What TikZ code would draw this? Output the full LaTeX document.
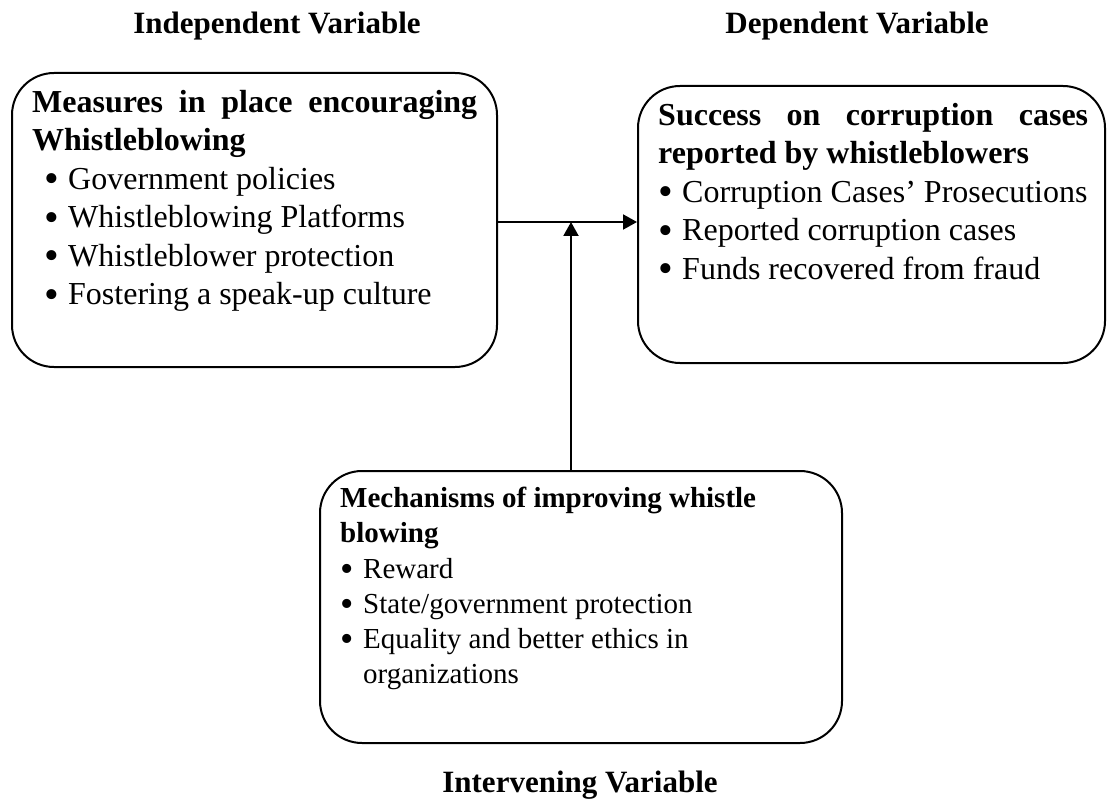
\documentclass[tikz,border=0pt]{standalone}
\usepackage{fontspec}
\setmainfont{Liberation Serif}
\usetikzlibrary{arrows.meta}
\hyphenpenalty=10000
\exhyphenpenalty=10000
\newcommand\mybul[2]{{\fontsize{#1}{0}\selectfont\raisebox{#2}{\textbullet}}}
\begin{document}
\begin{tikzpicture}[x=1pt,y=-1pt,
  box/.style={draw, line width=2pt, rounded corners=42pt, inner sep=0pt},
  txt/.style={anchor=north west, inner sep=0pt},
  big/.style={font=\fontsize{32}{38.5}\selectfont},
  small/.style={font=\fontsize{29}{35.2}\selectfont},
  vtitle/.style={anchor=base, inner sep=0pt, font=\fontsize{31}{38}\selectfont\bfseries},
  arr/.style={line width=2pt, -{Triangle[length=14pt,width=15pt]}}]
\useasboundingbox (0,0) rectangle (1107,810);

% titles
\node[vtitle] (tind) at (277,34) {Independent Variable};
\node[vtitle] (tdep) at (857,34) {Dependent Variable};
\node[vtitle] (tint) at (580,792) {Intervening Variable};

% boxes
\node[box, minimum width=485pt, minimum height=294pt] (lbox) at (254.5,220) {};
\node[box, minimum width=467pt, minimum height=277pt] (rbox) at (871.5,224.5) {};
\node[box, minimum width=522pt, minimum height=272pt] (bbox) at (581,607) {};

% texts
\node[txt, big, text width=445pt, align=justify] (ltxt) at (32,90)
{\textbf{Measures in place encouraging\linebreak Whistleblowing}\\
\hspace*{12pt}\makebox[24pt][l]{\mybul{42}{-3.5pt}}Government policies\\
\hspace*{12pt}\makebox[24pt][l]{\mybul{42}{-3.5pt}}Whistleblowing Platforms\\
\hspace*{12pt}\makebox[24pt][l]{\mybul{42}{-3.5pt}}Whistleblower protection\\
\hspace*{12pt}\makebox[24pt][l]{\mybul{42}{-3.5pt}}Fostering a speak-up culture};

\node[txt, big, text width=430pt, align=justify] (rtxt) at (658,103)
{\textbf{Success on corruption cases\linebreak reported by whistleblowers}\\
\makebox[24pt][l]{\mybul{42}{-3.5pt}}Corruption Cases’ Prosecutions\\
\makebox[24pt][l]{\mybul{42}{-3.5pt}}Reported corruption cases\\
\makebox[24pt][l]{\mybul{42}{-3.5pt}}Funds recovered from fraud};

\node[txt, small, text width=480pt, align=flush left] (btxt) at (340,487)
{\textbf{Mechanisms of improving whistle}\\
\textbf{blowing}\\
\makebox[23pt][l]{\mybul{38}{-3pt}}Reward\\
\makebox[23pt][l]{\mybul{38}{-3pt}}State/government protection\\
\makebox[23pt][l]{\mybul{38}{-3pt}}Equality and better ethics in\\
\hspace*{23pt}organizations};

% connectors
\coordinate (j) at (571,222);
\draw[arr] (lbox.east |- j) -- (rbox.west |- j);
\draw[arr] (bbox.north -| j) -- (j);
\end{tikzpicture}
\end{document}
